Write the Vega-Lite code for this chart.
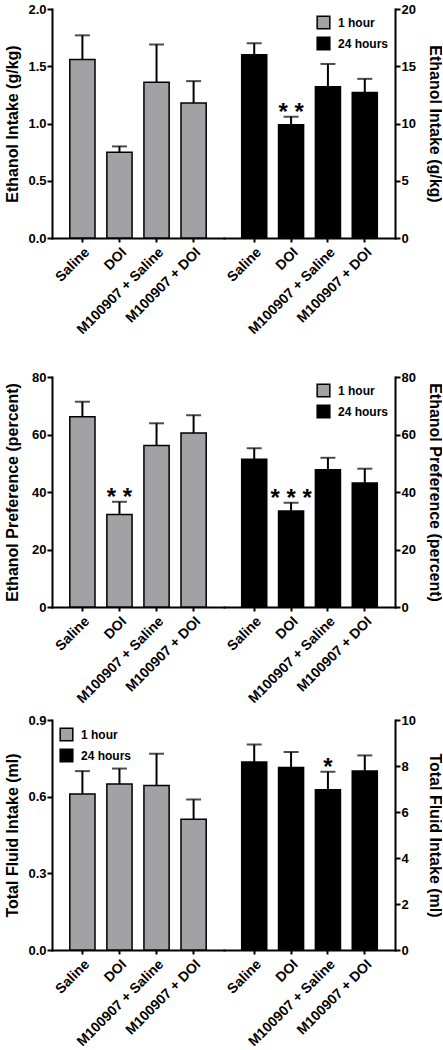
{
  "$schema": "https://vega.github.io/schema/vega-lite/v6.json",
  "padding": {"left": 4, "top": 3, "right": 0, "bottom": 0},
  "data": {
    "values": [
      {"measure": "intake", "time": "1 hour", "treatment": "Saline", "mean": 1.56, "upper": 1.77, "sig": ""},
      {"measure": "intake", "time": "1 hour", "treatment": "DOI", "mean": 0.75, "upper": 0.80, "sig": ""},
      {"measure": "intake", "time": "1 hour", "treatment": "M100907 + Saline", "mean": 1.36, "upper": 1.69, "sig": ""},
      {"measure": "intake", "time": "1 hour", "treatment": "M100907 + DOI", "mean": 1.18, "upper": 1.37, "sig": ""},
      {"measure": "intake", "time": "24 hours", "treatment": "Saline", "mean": 16.0, "upper": 17.0, "sig": ""},
      {"measure": "intake", "time": "24 hours", "treatment": "DOI", "mean": 9.9, "upper": 10.6, "sig": "* *"},
      {"measure": "intake", "time": "24 hours", "treatment": "M100907 + Saline", "mean": 13.2, "upper": 15.2, "sig": ""},
      {"measure": "intake", "time": "24 hours", "treatment": "M100907 + DOI", "mean": 12.7, "upper": 13.9, "sig": ""},
      {"measure": "preference", "time": "1 hour", "treatment": "Saline", "mean": 66.2, "upper": 71.4, "sig": ""},
      {"measure": "preference", "time": "1 hour", "treatment": "DOI", "mean": 32.2, "upper": 36.6, "sig": "* *"},
      {"measure": "preference", "time": "1 hour", "treatment": "M100907 + Saline", "mean": 56.2, "upper": 63.9, "sig": ""},
      {"measure": "preference", "time": "1 hour", "treatment": "M100907 + DOI", "mean": 60.5, "upper": 66.7, "sig": ""},
      {"measure": "preference", "time": "24 hours", "treatment": "Saline", "mean": 51.4, "upper": 55.2, "sig": ""},
      {"measure": "preference", "time": "24 hours", "treatment": "DOI", "mean": 33.4, "upper": 36.3, "sig": "* * *"},
      {"measure": "preference", "time": "24 hours", "treatment": "M100907 + Saline", "mean": 47.7, "upper": 51.9, "sig": ""},
      {"measure": "preference", "time": "24 hours", "treatment": "M100907 + DOI", "mean": 43.1, "upper": 48.1, "sig": ""},
      {"measure": "fluid", "time": "1 hour", "treatment": "Saline", "mean": 0.61, "upper": 0.70, "sig": ""},
      {"measure": "fluid", "time": "1 hour", "treatment": "DOI", "mean": 0.65, "upper": 0.71, "sig": ""},
      {"measure": "fluid", "time": "1 hour", "treatment": "M100907 + Saline", "mean": 0.644, "upper": 0.768, "sig": ""},
      {"measure": "fluid", "time": "1 hour", "treatment": "M100907 + DOI", "mean": 0.512, "upper": 0.589, "sig": ""},
      {"measure": "fluid", "time": "24 hours", "treatment": "Saline", "mean": 8.17, "upper": 8.93, "sig": ""},
      {"measure": "fluid", "time": "24 hours", "treatment": "DOI", "mean": 7.94, "upper": 8.61, "sig": ""},
      {"measure": "fluid", "time": "24 hours", "treatment": "M100907 + Saline", "mean": 6.97, "upper": 7.75, "sig": "*"},
      {"measure": "fluid", "time": "24 hours", "treatment": "M100907 + DOI", "mean": 7.78, "upper": 8.46, "sig": ""}
    ]
  },
  "config": {
    "font": "Liberation Sans",
    "view": {"stroke": null},
    "axis": {
      "grid": false,
      "domainColor": "black", "domainWidth": 2, "domainCap": "square",
      "tickColor": "black", "tickWidth": 2, "tickSize": 5,
      "labelColor": "black", "labelFont": "Liberation Sans", "labelFontWeight": "bold", "labelFontSize": 13,
      "titleColor": "black", "titleFont": "Liberation Sans", "titleFontWeight": "bold", "titleFontSize": 16
    },
    "axisX": {"labelFontSize": 14, "labelPadding": 3, "tickSize": 4},
    "axisLeft": {"minExtent": 25, "maxExtent": 25, "labelPadding": 1, "titlePadding": 7},
    "axisRight": {"minExtent": 21, "maxExtent": 21, "labelPadding": 1, "titlePadding": 10},
    "legend": {
      "title": null, "padding": 0, "symbolType": "square", "symbolSize": 160,
      "symbolStrokeColor": "black", "symbolStrokeWidth": 1.5,
      "labelFont": "Liberation Sans", "labelFontSize": 12, "labelFontWeight": "bold", "labelColor": "black",
      "labelOffset": 7, "rowPadding": 2
    }
  },
  "resolve": {"scale": {"color": "independent"}},
  "spacing": 34,
  "vconcat": [
    {
      "hconcat": [
        {
          "width": 172, "height": 229,
          "transform": [{"filter": "datum.measure === 'intake' && datum.time === '1 hour'"}],
          "encoding": {"x": {"field": "treatment", "type": "nominal", "sort": null, "scale": {"paddingInner": 0.32, "paddingOuter": 0.48}, "axis": {"title": null, "labelAngle": -45, "labelOverlap": false}}},
          "layer": [
            {"mark": {"type": "rule", "strokeWidth": 2, "color": "black"}, "encoding": {"y": {"field": "mean", "type": "quantitative", "scale": {"domain": [0, 2]}, "axis": {"orient": "left", "values": [0, 0.5, 1, 1.5, 2], "format": ".1f", "title": "Ethanol Intake (g/kg)"}}, "y2": {"field": "upper"}}},
            {"mark": {"type": "tick", "thickness": 2, "size": 15, "color": "black"}, "encoding": {"y": {"field": "upper", "type": "quantitative", "scale": {"domain": [0, 2]}, "axis": {"orient": "left", "values": [0, 0.5, 1, 1.5, 2], "format": ".1f", "title": "Ethanol Intake (g/kg)"}}}},
            {"mark": {"type": "bar", "fill": "#a2a2a4", "stroke": "black", "strokeWidth": 1.5}, "encoding": {"y": {"field": "mean", "type": "quantitative", "scale": {"domain": [0, 2]}, "axis": {"orient": "left", "values": [0, 0.5, 1, 1.5, 2], "format": ".1f", "title": "Ethanol Intake (g/kg)"}}}}
          ]
        },
        {
          "width": 171, "height": 229,
          "transform": [{"filter": "datum.measure === 'intake' && datum.time === '24 hours'"}],
          "encoding": {"x": {"field": "treatment", "type": "nominal", "sort": null, "scale": {"paddingInner": 0.32, "paddingOuter": 0.48}, "axis": {"title": null, "labelAngle": -45, "labelOverlap": false}}},
          "layer": [
            {"mark": {"type": "rule", "strokeWidth": 2, "color": "black"}, "encoding": {"y": {"field": "mean", "type": "quantitative", "scale": {"domain": [0, 20]}, "axis": {"orient": "right", "values": [0, 5, 10, 15, 20], "title": "Ethanol Intake (g/kg)"}}, "y2": {"field": "upper"}}},
            {"mark": {"type": "tick", "thickness": 2, "size": 15, "color": "black"}, "encoding": {"y": {"field": "upper", "type": "quantitative", "scale": {"domain": [0, 20]}, "axis": {"orient": "right", "values": [0, 5, 10, 15, 20], "title": "Ethanol Intake (g/kg)"}}}},
            {"mark": {"type": "bar", "stroke": "black", "strokeWidth": 1.5}, "encoding": {
              "y": {"field": "mean", "type": "quantitative", "scale": {"domain": [0, 20]}, "axis": {"orient": "right", "values": [0, 5, 10, 15, 20], "title": "Ethanol Intake (g/kg)"}},
              "color": {"field": "time", "type": "nominal", "scale": {"domain": ["1 hour", "24 hours"], "range": ["#a2a2a4", "#000000"]}, "legend": {"orient": "top-right", "offset": 6}}
            }},
            {"transform": [{"filter": "datum.sig !== ''"}], "mark": {"type": "text", "fontSize": 24, "fontWeight": "bold", "baseline": "alphabetic", "dy": 3, "color": "black"}, "encoding": {"y": {"field": "upper", "type": "quantitative", "scale": {"domain": [0, 20]}, "axis": {"orient": "right", "values": [0, 5, 10, 15, 20], "title": "Ethanol Intake (g/kg)"}}, "text": {"field": "sig"}}}
          ]
        }
      ],
      "spacing": 0,
      "bounds": "flush",
      "resolve": {"scale": {"color": "independent"}}
    },
    {
      "spacing": 8,
      "resolve": {"scale": {"color": "independent"}},
      "vconcat": [
        {
          "hconcat": [
            {
              "width": 172, "height": 230,
              "transform": [{"filter": "datum.measure === 'preference' && datum.time === '1 hour'"}],
              "encoding": {"x": {"field": "treatment", "type": "nominal", "sort": null, "scale": {"paddingInner": 0.32, "paddingOuter": 0.48}, "axis": {"title": null, "labelAngle": -45, "labelOverlap": false}}},
              "layer": [
                {"mark": {"type": "rule", "strokeWidth": 2, "color": "black"}, "encoding": {"y": {"field": "mean", "type": "quantitative", "scale": {"domain": [0, 80]}, "axis": {"orient": "left", "values": [0, 20, 40, 60, 80], "title": "Ethanol Preference (percent)"}}, "y2": {"field": "upper"}}},
                {"mark": {"type": "tick", "thickness": 2, "size": 15, "color": "black"}, "encoding": {"y": {"field": "upper", "type": "quantitative", "scale": {"domain": [0, 80]}, "axis": {"orient": "left", "values": [0, 20, 40, 60, 80], "title": "Ethanol Preference (percent)"}}}},
                {"mark": {"type": "bar", "fill": "#a2a2a4", "stroke": "black", "strokeWidth": 1.5}, "encoding": {"y": {"field": "mean", "type": "quantitative", "scale": {"domain": [0, 80]}, "axis": {"orient": "left", "values": [0, 20, 40, 60, 80], "title": "Ethanol Preference (percent)"}}}},
                {"transform": [{"filter": "datum.sig !== ''"}], "mark": {"type": "text", "fontSize": 24, "fontWeight": "bold", "baseline": "alphabetic", "dy": 3, "color": "black"}, "encoding": {"y": {"field": "upper", "type": "quantitative", "scale": {"domain": [0, 80]}, "axis": {"orient": "left", "values": [0, 20, 40, 60, 80], "title": "Ethanol Preference (percent)"}}, "text": {"field": "sig"}}}
              ]
            },
            {
              "width": 171, "height": 230,
              "transform": [{"filter": "datum.measure === 'preference' && datum.time === '24 hours'"}],
              "encoding": {"x": {"field": "treatment", "type": "nominal", "sort": null, "scale": {"paddingInner": 0.32, "paddingOuter": 0.48}, "axis": {"title": null, "labelAngle": -45, "labelOverlap": false}}},
              "layer": [
                {"mark": {"type": "rule", "strokeWidth": 2, "color": "black"}, "encoding": {"y": {"field": "mean", "type": "quantitative", "scale": {"domain": [0, 80]}, "axis": {"orient": "right", "values": [0, 20, 40, 60, 80], "title": "Ethanol Preference (percent)"}}, "y2": {"field": "upper"}}},
                {"mark": {"type": "tick", "thickness": 2, "size": 15, "color": "black"}, "encoding": {"y": {"field": "upper", "type": "quantitative", "scale": {"domain": [0, 80]}, "axis": {"orient": "right", "values": [0, 20, 40, 60, 80], "title": "Ethanol Preference (percent)"}}}},
                {"mark": {"type": "bar", "stroke": "black", "strokeWidth": 1.5}, "encoding": {
                  "y": {"field": "mean", "type": "quantitative", "scale": {"domain": [0, 80]}, "axis": {"orient": "right", "values": [0, 20, 40, 60, 80], "title": "Ethanol Preference (percent)"}},
                  "color": {"field": "time", "type": "nominal", "scale": {"domain": ["1 hour", "24 hours"], "range": ["#a2a2a4", "#000000"]}, "legend": {"orient": "top-right", "offset": 6}}
                }},
                {"transform": [{"filter": "datum.sig !== ''"}], "mark": {"type": "text", "fontSize": 24, "fontWeight": "bold", "baseline": "alphabetic", "dy": 3, "color": "black"}, "encoding": {"y": {"field": "upper", "type": "quantitative", "scale": {"domain": [0, 80]}, "axis": {"orient": "right", "values": [0, 20, 40, 60, 80], "title": "Ethanol Preference (percent)"}}, "text": {"field": "sig"}}}
              ]
            }
          ],
          "spacing": 0,
          "bounds": "flush",
          "resolve": {"scale": {"color": "independent"}}
        },
        {
          "hconcat": [
            {
              "width": 172, "height": 230,
              "transform": [{"filter": "datum.measure === 'fluid' && datum.time === '1 hour'"}],
              "encoding": {"x": {"field": "treatment", "type": "nominal", "sort": null, "scale": {"paddingInner": 0.32, "paddingOuter": 0.48}, "axis": {"title": null, "labelAngle": -45, "labelOverlap": false}}},
              "layer": [
                {"mark": {"type": "rule", "strokeWidth": 2, "color": "black"}, "encoding": {"y": {"field": "mean", "type": "quantitative", "scale": {"domain": [0, 0.9]}, "axis": {"orient": "left", "values": [0, 0.3, 0.6, 0.9], "format": ".1f", "title": "Total Fluid Intake (ml)"}}, "y2": {"field": "upper"}}},
                {"mark": {"type": "tick", "thickness": 2, "size": 15, "color": "black"}, "encoding": {"y": {"field": "upper", "type": "quantitative", "scale": {"domain": [0, 0.9]}, "axis": {"orient": "left", "values": [0, 0.3, 0.6, 0.9], "format": ".1f", "title": "Total Fluid Intake (ml)"}}}},
                {"mark": {"type": "bar", "stroke": "black", "strokeWidth": 1.5}, "encoding": {
                  "y": {"field": "mean", "type": "quantitative", "scale": {"domain": [0, 0.9]}, "axis": {"orient": "left", "values": [0, 0.3, 0.6, 0.9], "format": ".1f", "title": "Total Fluid Intake (ml)"}},
                  "color": {"field": "time", "type": "nominal", "scale": {"domain": ["1 hour", "24 hours"], "range": ["#a2a2a4", "#000000"]}, "legend": {"orient": "top-left", "offset": 7}}
                }}
              ]
            },
            {
              "width": 171, "height": 230,
              "transform": [{"filter": "datum.measure === 'fluid' && datum.time === '24 hours'"}],
              "encoding": {"x": {"field": "treatment", "type": "nominal", "sort": null, "scale": {"paddingInner": 0.32, "paddingOuter": 0.48}, "axis": {"title": null, "labelAngle": -45, "labelOverlap": false}}},
              "layer": [
                {"mark": {"type": "rule", "strokeWidth": 2, "color": "black"}, "encoding": {"y": {"field": "mean", "type": "quantitative", "scale": {"domain": [0, 10]}, "axis": {"orient": "right", "values": [0, 2, 4, 6, 8, 10], "title": "Total Fluid Intake (ml)"}}, "y2": {"field": "upper"}}},
                {"mark": {"type": "tick", "thickness": 2, "size": 15, "color": "black"}, "encoding": {"y": {"field": "upper", "type": "quantitative", "scale": {"domain": [0, 10]}, "axis": {"orient": "right", "values": [0, 2, 4, 6, 8, 10], "title": "Total Fluid Intake (ml)"}}}},
                {"mark": {"type": "bar", "fill": "#000000", "stroke": "black", "strokeWidth": 1.5}, "encoding": {"y": {"field": "mean", "type": "quantitative", "scale": {"domain": [0, 10]}, "axis": {"orient": "right", "values": [0, 2, 4, 6, 8, 10], "title": "Total Fluid Intake (ml)"}}}},
                {"transform": [{"filter": "datum.sig !== ''"}], "mark": {"type": "text", "fontSize": 24, "fontWeight": "bold", "baseline": "alphabetic", "dy": 3, "color": "black"}, "encoding": {"y": {"field": "upper", "type": "quantitative", "scale": {"domain": [0, 10]}, "axis": {"orient": "right", "values": [0, 2, 4, 6, 8, 10], "title": "Total Fluid Intake (ml)"}}, "text": {"field": "sig"}}}
              ]
            }
          ],
          "spacing": 0,
          "bounds": "flush",
          "resolve": {"scale": {"color": "independent"}}
        }
      ]
    }
  ]
}
